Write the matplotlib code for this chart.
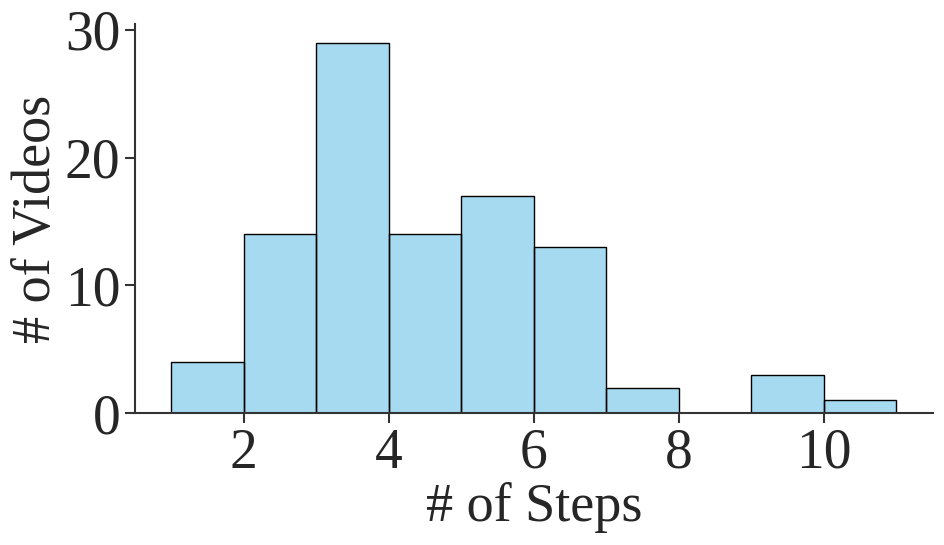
import matplotlib
matplotlib.use("Agg")
import matplotlib.pyplot as plt
import seaborn as sns

# histogram bins (left edges) and counts
bin_edges = [1, 2, 3, 4, 5, 6, 7, 8, 9, 10, 11]
counts = [4, 14, 29, 14, 17, 13, 2, 0, 3, 1]
x_ticks = [2, 4, 6, 8, 10]
y_ticks = [0, 10, 20, 30]

sns.set_style("ticks")
plt.rcParams["font.family"] = ["Liberation Serif", "DejaVu Serif"]

fig = plt.figure(figsize=(9.44, 5.45), dpi=100)
ax = fig.add_axes([0.143, 0.242, 0.845, 0.714])

widths = [b - a for a, b in zip(bin_edges[:-1], bin_edges[1:])]
ax.bar(bin_edges[:-1], counts, width=widths, align="edge",
       color="skyblue", alpha=0.75, edgecolor="none")
ax.bar(bin_edges[:-1], counts, width=widths, align="edge",
       color="none", edgecolor="black", linewidth=1)

ax.set_xlim(0.5, 11.5)
ax.set_ylim(0, 30.45)
ax.set_xticks(x_ticks)
ax.set_yticks(y_ticks)
ax.tick_params(labelsize=40, colors="#333333", labelcolor="#262626",
               length=7, width=1.5)
for s in ["left", "bottom"]:
    ax.spines[s].set_color("#333333")
    ax.spines[s].set_linewidth(1.5)
sns.despine(ax=ax)

ax.set_xlabel("# of Steps", fontsize=39, color="#262626", labelpad=2)
ax.set_ylabel("# of Videos", fontsize=39, color="#262626", labelpad=2)

fig.savefig("out.png", dpi=100)
